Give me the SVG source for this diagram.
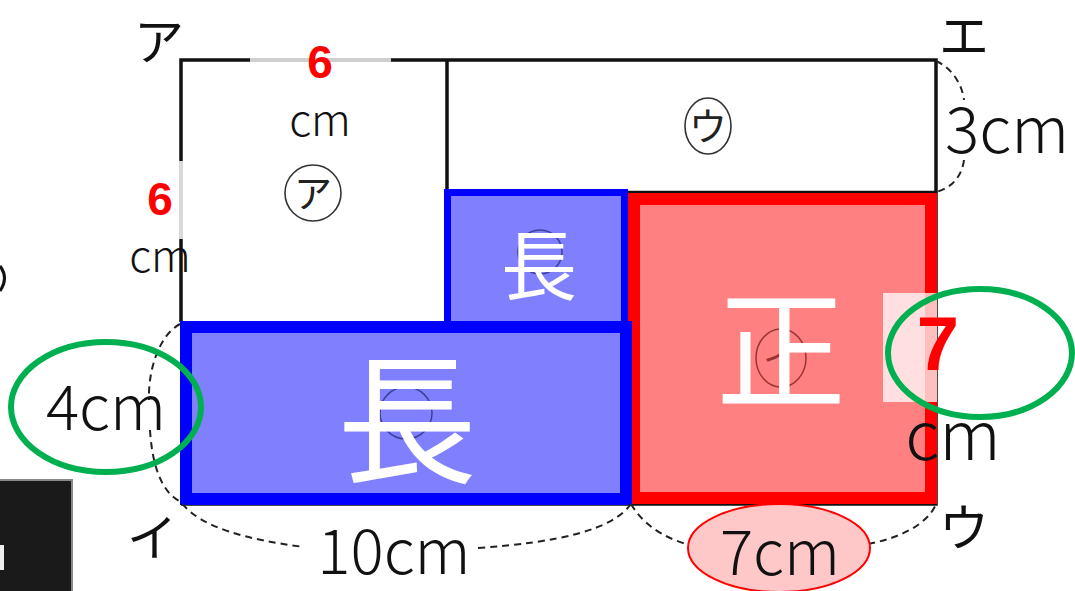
<svg xmlns="http://www.w3.org/2000/svg" width="1075" height="591" viewBox="0 0 1075 591">
<style>
.jp{font-family:"Noto Sans CJK JP","Noto Sans",sans-serif;}
.lbl{font-family:"Noto Sans CJK JP",sans-serif;font-size:50px;font-weight:400;fill:#111;}
.dim{font-family:"Noto Sans CJK JP","Noto Sans",sans-serif;font-weight:300;fill:#111;text-anchor:middle;}
.red6{font-family:"Liberation Sans",Arial,sans-serif;font-weight:bold;fill:#ff0000;text-anchor:middle;}
.dash{fill:none;stroke:#222;stroke-width:2;stroke-dasharray:7 5;}
.edge{fill:none;stroke:#111;stroke-width:3.5;}
.circ{fill:none;stroke:#333;stroke-width:1.6;}
.big{font-family:"Noto Sans CJK JP",sans-serif;fill:#fff;text-anchor:middle;}
</style>
<rect width="1075" height="591" fill="#fff"/>
<!-- stray fragments at the left edge -->
<path d="M0,266 Q9,278 0,291" fill="none" stroke="#111" stroke-width="3"/>
<rect x="-2" y="480" width="74" height="113" fill="#1a1a1a" stroke="#8a8a8a" stroke-width="2"/>
<rect x="0" y="545" width="4" height="25" fill="#eee"/>

<g id="outline">
<path class="edge" d="M181,322 V60 H936 V504 H181"/>
<line x1="447" y1="60" x2="447" y2="192" class="edge" stroke-width="3"/>
<line x1="447" y1="192" x2="936" y2="192" stroke="#111" stroke-width="2.5"/>
<line x1="250" y1="60" x2="391" y2="60" stroke="#cfcfcf" stroke-width="4"/>
<line x1="181" y1="161" x2="181" y2="239" stroke="#d8d8d8" stroke-width="4"/>
</g>

<g id="region-a">
<circle class="circ" cx="313" cy="193" r="28"/>
<text class="jp" x="313" y="207" font-size="38" text-anchor="middle" fill="#222">ア</text>
</g>
<g id="region-u">
<ellipse class="circ" cx="708" cy="126" rx="23" ry="28"/>
<text class="jp" x="708" y="140" font-size="38" text-anchor="middle" fill="#222">ウ</text>
</g>

<g id="rect-small">
<rect x="447.5" y="192.5" width="177" height="134" fill="#8080ff" stroke="#0000ff" stroke-width="7"/>
<circle cx="540" cy="252" r="22" fill="none" stroke="#222266" stroke-width="1.5" opacity="0.7"/>
<text class="big" x="539" y="294" font-size="76">長</text>
</g>

<g id="square">
<rect x="634" y="199" width="297" height="299" fill="#ff8080" stroke="#ff0000" stroke-width="12"/>
<ellipse cx="781" cy="358" rx="25" ry="29" fill="none" stroke="#802020" stroke-width="1.5" opacity="0.8"/>
<text class="jp" x="781" y="372" font-size="36" text-anchor="middle" fill="#802020" opacity="0.8">イ</text>
<text class="big" x="781" y="398" font-size="130">正</text>
<rect x="883" y="293" width="54" height="109" fill="#fff" opacity="0.75"/>
</g>

<g id="rect-big">
<rect x="186" y="327" width="440" height="172" fill="#8080ff" stroke="#0000ff" stroke-width="12"/>
<circle cx="406" cy="413" r="26" fill="none" stroke="#222266" stroke-width="1.5" opacity="0.7"/>
<text class="big" x="407" y="472" font-size="140">長</text>
</g>

<g id="connectors">
<path class="dash" d="M936,61 C952,68 962,84 964,100"/>
<path class="dash" d="M964,160 C962,176 952,188 936,192"/>
<path class="dash" d="M180,324 C158,336 148,372 149,400"/>
<path class="dash" d="M150,430 C152,462 160,492 181,502 C200,528 250,540 304,547"/>
<path class="dash" d="M478,548 C560,542 612,530 631,504"/>
<path class="dash" d="M631,504 C645,528 670,540 690,545"/>
<path class="dash" d="M868,544 C900,538 928,524 936,504"/>
</g>

<g id="labels">
<text class="lbl" x="134" y="60">ア</text>
<text class="lbl" x="939" y="54">エ</text>
<text class="lbl" x="127" y="556">イ</text>
<text class="lbl" x="939" y="546">ウ</text>

<text class="red6" x="320" y="78" font-size="46">6</text>
<text class="dim" x="320" y="136" font-size="44">cm</text>
<text class="red6" x="160" y="215" font-size="46">6</text>
<text class="dim" x="160" y="272" font-size="44">cm</text>

<text class="dim" x="1007" y="153" font-size="64">3cm</text>

<ellipse cx="106" cy="407" rx="95" ry="65" fill="none" stroke="#00b050" stroke-width="6"/>
<text class="dim" x="106" y="430" font-size="62">4cm</text>

<text class="red6" x="938" y="370" font-size="76">7</text>
<ellipse cx="980" cy="353" rx="92" ry="64" fill="none" stroke="#00b050" stroke-width="6"/>
<text class="dim" x="953" y="460" font-size="68">cm</text>

<text class="dim" x="394" y="574" font-size="62">10cm</text>

<ellipse cx="779" cy="548" rx="91" ry="44" fill="#ffc8c8" stroke="#ff0000" stroke-width="2"/>
<text class="dim" x="780" y="575" font-size="62" fill="#2a0a0a">7cm</text>
</g>
</svg>
